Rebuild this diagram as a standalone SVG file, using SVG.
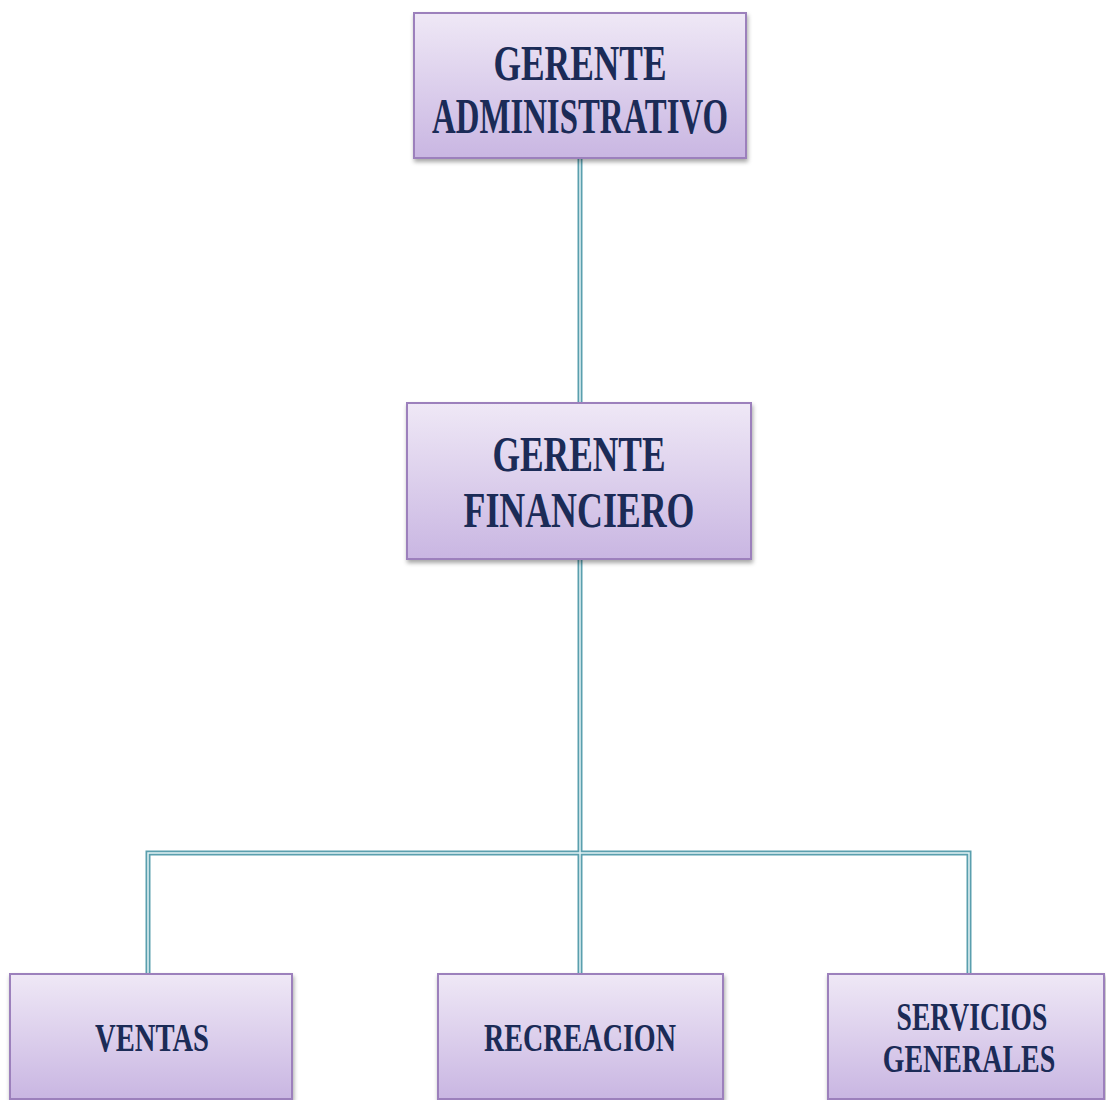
<svg xmlns="http://www.w3.org/2000/svg" width="1106" height="1100" viewBox="0 0 1106 1100">
<defs>
<linearGradient id="g" x1="0" y1="0" x2="0" y2="1">
<stop offset="0" stop-color="#efe8f6"/>
<stop offset="1" stop-color="#c9b6e2"/>
</linearGradient>
<filter id="sh" x="-10%" y="-10%" width="120%" height="130%">
<feDropShadow dx="1" dy="3" stdDeviation="2" flood-color="#000" flood-opacity="0.35"/>
</filter>
</defs>
<style>
.box{fill:url(#g);stroke:#9c80bc;stroke-width:2;filter:url(#sh)}
.t{font-family:"Liberation Serif","Times New Roman",serif;font-weight:bold;fill:#1b2b57;text-anchor:middle}
.co{fill:none;stroke:#5a9fae;stroke-width:5}
.ci{fill:none;stroke:#e4f3f5;stroke-width:1.5}
</style>
<rect width="1106" height="1100" fill="#ffffff"/>
<g id="connectors">
<path class="co" d="M580 158V403M580 559V974M148 974V853H969V974"/>
<path class="ci" d="M580 158V403M580 559V974M148 974V853H969V974"/>
</g>
<g id="n-admin">
<rect class="box" x="414" y="13" width="332" height="145"/>
<text class="t" x="580" y="80" font-size="50" textLength="173" lengthAdjust="spacingAndGlyphs">GERENTE</text>
<text class="t" x="580" y="133" font-size="50" textLength="296" lengthAdjust="spacingAndGlyphs">ADMINISTRATIVO</text>
</g>
<g id="n-fin">
<rect class="box" x="407" y="403" width="344" height="156"/>
<text class="t" x="579" y="471" font-size="50" textLength="173" lengthAdjust="spacingAndGlyphs">GERENTE</text>
<text class="t" x="579" y="527" font-size="50" textLength="231" lengthAdjust="spacingAndGlyphs">FINANCIERO</text>
</g>
<g id="n-ventas">
<rect class="box" x="10" y="974" width="282" height="125"/>
<text class="t" x="152" y="1051" font-size="40" textLength="114" lengthAdjust="spacingAndGlyphs">VENTAS</text>
</g>
<g id="n-recreacion">
<rect class="box" x="438" y="974" width="285" height="125"/>
<text class="t" x="580" y="1051" font-size="40" textLength="192" lengthAdjust="spacingAndGlyphs">RECREACION</text>
</g>
<g id="n-servicios">
<rect class="box" x="828" y="974" width="276" height="125"/>
<text class="t" transform="translate(972 1030) scale(0.69 1)" font-size="40">SERVICIOS</text>
<text class="t" transform="translate(969 1072) scale(0.70 1)" font-size="40">GENERALES</text>
</g>
</svg>
